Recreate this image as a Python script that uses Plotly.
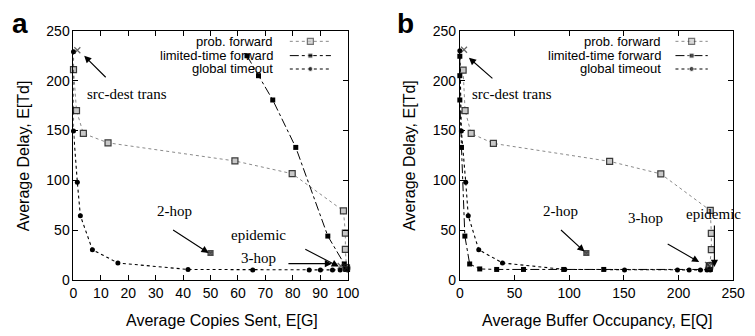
import plotly.graph_objects as go

# ---------------- data ----------------
# panel a: x = Average Copies Sent E[G]
prob_a_x = [0, 1.1, 3.6, 12.6, 58.9, 79.8, 98.5, 99.2, 99.2, 99.6]
prob_a_y = [211, 170, 147, 137.6, 119.4, 106.6, 69.3, 47, 30.6, 12]
lim_a_x = [63.3, 67.5, 72.7, 81.1, 92.8, 98.8, 99.3, 99.5, 99.7, 99.8, 99.9, 100]
lim_a_y = [225, 205, 180.6, 133, 44, 16, 11, 10.5, 10.5, 10.5, 10.5, 10.5]
glob_a_x = [0, 0, 1.4, 2.5, 6.9, 16.2, 41.8, 65.4, 86, 90.1, 94.5, 97.3, 100]
glob_a_y = [229, 149.5, 98, 64.5, 30.3, 17, 10.5, 10, 10, 10, 10, 10, 10]

# panel b: x = Average Buffer Occupancy E[Q]
prob_b_x = [3, 4.8, 10.4, 30.7, 137, 183.8, 229, 230, 230, 228.5]
prob_b_y = [210.5, 170, 147, 137, 119, 106.4, 69.7, 46.8, 30.3, 14]
lim_b_x = [0, 0, 0, 1.5, 4.6, 9, 18.2, 33.7, 58.2, 95, 131.6, 229]
lim_b_y = [224.5, 205, 180.6, 133, 44, 16, 11, 10.5, 10.5, 10.5, 10.5, 10.5]
glob_b_x = [0, 1.4, 5.4, 7.7, 17.3, 39, 96, 150.6, 199, 209.7, 220, 226, 229]
glob_b_y = [230, 149.5, 98, 64.5, 30.3, 17, 10.5, 10, 10, 10, 10, 10, 10]

# special schemes: [src-dest trans, 2-hop, 3-hop, epidemic]
special_a_x = [1.4, 50, 97.5, 99.6]
special_a_y = [230.5, 27, 14, 12]
special_b_x = [3.8, 115.7, 227, 228.3]
special_b_y = [231, 27, 15, 14]

series_names = ["prob. forward", "limited-time forward", "global timeout"]
x_ticks_a = [0, 10, 20, 30, 40, 50, 60, 70, 80, 90, 100]
x_ticks_b = [0, 50, 100, 150, 200, 250]
y_ticks = [0, 50, 100, 150, 200, 250]

# ---------------- styling ----------------
W, H = 755, 336
SANS = "Liberation Sans, Arial, sans-serif"
SERIF = "Liberation Serif, Times New Roman, serif"

styles = [
    dict(line=dict(color="#8a8a8a", width=1, dash="dot"),
         marker=dict(symbol="square", size=6, color="#c8c8c8", line=dict(width=1.2, color="#3a3a3a"))),
    dict(line=dict(color="black", width=1, dash="dashdot"),
         marker=dict(symbol="square", size=5, color="black")),
    dict(line=dict(color="black", width=1.1, dash="dot"),
         marker=dict(symbol="circle", size=5, color="black")),
]

fig = go.Figure()

panels = [
    ("x", "y", [prob_a_x, lim_a_x, glob_a_x], [prob_a_y, lim_a_y, glob_a_y], special_a_x, special_a_y),
    ("x2", "y2", [prob_b_x, lim_b_x, glob_b_x], [prob_b_y, lim_b_y, glob_b_y], special_b_x, special_b_y),
]
for xa, ya, xs, ys, sx, sy in panels:
    for i in range(3):
        fig.add_trace(go.Scatter(x=xs[i], y=ys[i], mode="lines+markers", name=series_names[i],
                                 xaxis=xa, yaxis=ya, showlegend=False, cliponaxis=False, **styles[i]))
    fig.add_trace(go.Scatter(x=sx, y=sy, mode="markers", xaxis=xa, yaxis=ya, showlegend=False,
                             cliponaxis=False,
                             marker=dict(symbol=["x-thin-open", "square-x", "x-thin-open", "circle-x-open"],
                                         size=[6, 5, 6, 7], color="#222222",
                                         line=dict(width=1.2, color="black"))))

# legend samples drawn on a full-figure pixel axis
leg_rows = [35, 50, 64]
for (x0, x1, xt) in [(292, 334, 277), (686, 719, 673)]:
    for i, yy in enumerate(leg_rows):
        mk = dict(styles[i]["marker"])
        mk["size"] = [0, styles[i]["marker"]["size"], 0]
        fig.add_trace(go.Scatter(x=[x0, (x0 + x1) / 2, x1], y=[yy, yy, yy], mode="lines+markers",
                                 xaxis="x3", yaxis="y3", showlegend=False, cliponaxis=False,
                                 line=styles[i]["line"], marker=mk))
        fig.add_annotation(x=xt / W, y=1 - yy / H, xref="paper", yref="paper", text=series_names[i],
                           showarrow=False, xanchor="right", yanchor="middle",
                           font=dict(family=SANS, size=13, color="black"))

axis_common = dict(showline=True, linecolor="black", linewidth=1, mirror="allticks", ticks="inside",
                   ticklen=5, tickcolor="black", showgrid=False, zeroline=False,
                   tickfont=dict(family=SANS, size=14, color="black"))

top, bot = 1 - 24 / H, 1 - 285.5 / H
fig.update_layout(
    autosize=True, margin=dict(l=0, r=0, t=0, b=0),
    paper_bgcolor="white", plot_bgcolor="rgba(0,0,0,0)",
    xaxis=dict(domain=[71 / W, 351 / W], range=[0, 100], tickvals=x_ticks_a, anchor="y", **axis_common),
    yaxis=dict(domain=[bot, top], range=[0, 250], tickvals=y_ticks, anchor="x", **axis_common),
    xaxis2=dict(domain=[465.7 / W, 745 / W], range=[0, 250], tickvals=x_ticks_b, anchor="y2", **axis_common),
    yaxis2=dict(domain=[bot, top], range=[0, 250], tickvals=y_ticks, anchor="x2", **axis_common),
    xaxis3=dict(domain=[0, 1], range=[0, W], visible=False, anchor="y3", fixedrange=True),
    yaxis3=dict(domain=[0, 1], range=[H, 0], visible=False, anchor="x3", fixedrange=True),
)

# titles and panel letters
for cx, txt in [(223, "Average Copies Sent, E[G]"), (606, "Average Buffer Occupancy, E[Q]")]:
    fig.add_annotation(x=cx / W, y=1 - 328 / H, xref="paper", yref="paper", text=txt, showarrow=False,
                       xanchor="center", yanchor="middle", font=dict(family=SANS, size=16, color="black"))
for cx in [20, 414]:
    fig.add_annotation(x=cx / W, y=1 - 155 / H, xref="paper", yref="paper", text="Average Delay, E[Td]",
                       showarrow=False, textangle=-90, xanchor="center", yanchor="middle",
                       font=dict(family=SANS, size=16, color="black"))
for cx, letter in [(16, "a"), (410, "b")]:
    fig.add_annotation(x=cx / W, y=1 - 16 / H, xref="paper", yref="paper", text="<b>%s</b>" % letter,
                       showarrow=False, xanchor="center", yanchor="middle",
                       font=dict(family=SANS, size=28, color="black"))

# scheme labels (positioned in figure pixels) and arrows (pointing at data)
def label(px, py, text):
    fig.add_annotation(x=px / W, y=1 - py / H, xref="paper", yref="paper", text=text, showarrow=False,
                       xanchor="center", yanchor="middle",
                       font=dict(family=SERIF, size=15, color="black"))

def arrow(xa, ya, x, y, ax, ay):
    fig.add_annotation(x=x, y=y, xref=xa, yref=ya, ax=ax, ay=ay, text="", showarrow=True,
                       arrowhead=2, arrowsize=1.3, arrowwidth=1.1, arrowcolor="black")

label(125.5, 90, "src-dest trans")
arrow("x", "y", 3.9, 225, 23, 23)
label(174, 213, "2-hop")
arrow("x", "y", 49.3, 27, -37, -24)
label(260.5, 238, "epidemic")
arrow("x", "y", 96.8, 13.4, -35, -18)
label(259.5, 263, "3-hop")
arrow("x", "y", 94.3, 16.3, -45, 0)

label(519, 90, "src-dest trans")
arrow("x2", "y2", 8.3, 223, 25, 22)
label(568.5, 213, "2-hop")
arrow("x2", "y2", 114, 28.4, -25, -23)
label(725, 216, "epidemic")
arrow("x2", "y2", 232.8, 13, 0, -43)
label(655, 220, "3-hop")
arrow("x2", "y2", 218.9, 17.9, -33, -19)

fig.write_html("out.html", default_width="100vw", default_height="100vh",
               config={"displayModeBar": False, "staticPlot": True, "responsive": True},
               post_script="document.body.style.margin='0';document.body.style.overflow='hidden';")
